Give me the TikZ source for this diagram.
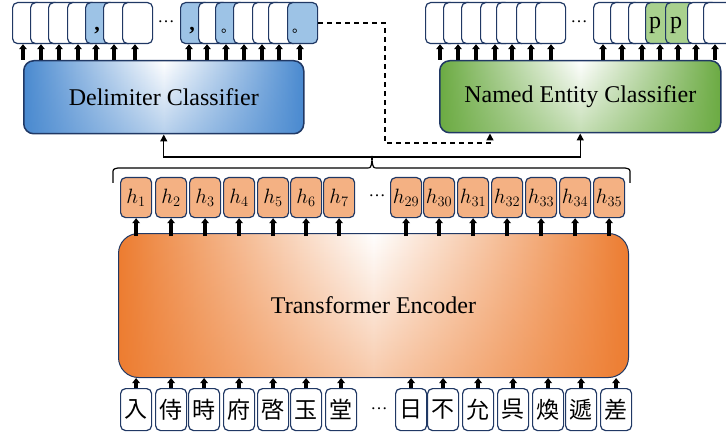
\documentclass[tikz,border=0pt]{standalone}
\usepackage{fontspec}
\setmainfont{Liberation Serif}
\newfontfamily\cjkf{Noto Sans CJK JP}
\usetikzlibrary{arrows.meta,calc,fadings}
\definecolor{navy}{HTML}{203864}
\definecolor{hor}{HTML}{F4B183}
\definecolor{bfill}{HTML}{9DC3E6}
\definecolor{gfill}{HTML}{A9D18E}
\definecolor{encor}{HTML}{ED7D31}
\definecolor{dcblue}{HTML}{4A8AD0}
\definecolor{necgreen}{HTML}{6CAB43}
\tikzset{
 obox/.style={draw=navy,line width=1.2pt,rounded corners=5pt,minimum width=30pt,minimum height=41pt,inner sep=0pt,anchor=north west},
 hbox/.style={draw=navy,line width=1.2pt,rounded corners=5pt,fill=hor,minimum width=31pt,minimum height=40pt,inner sep=0pt,anchor=north west,font=\fontsize{21}{24}\selectfont},
 cbox/.style={draw=navy,line width=1.2pt,rounded corners=5pt,fill=white,minimum width=31pt,minimum height=42pt,inner sep=0pt,anchor=north west,font=\fontsize{23}{26}\selectfont\cjkf},
 arr/.style={line width=3.4pt,-{Triangle[length=5pt,width=7.5pt]}},
 conn/.style={line width=1.3pt},
 carr/.style={line width=1.4pt,-{Triangle[length=7pt,width=7pt]}},
 dsh/.style={line width=1.4pt,dash pattern=on 5pt off 4pt,-{Triangle[length=7pt,width=7pt]}},
 cls/.style={draw=navy,line width=1.5pt,rounded corners=10pt,inner sep=0pt,anchor=north west,font=\fontsize{24}{28}\selectfont},
 grad/.style={path picture={
   \shade[left color=#1,right color=#1,middle color=white] (path picture bounding box.south west) rectangle (path picture bounding box.north east);
   \fill[#1,opacity=0.4,path fading=north] (path picture bounding box.south west) rectangle (path picture bounding box.north east);}},
 dots/.style={font=\fontsize{17}{20}\selectfont,inner sep=0pt},
 lab/.style={inner sep=0pt,anchor=base},
}
\begin{document}
\begin{tikzpicture}[x=1pt,y=-1pt]
\useasboundingbox (0,0) rectangle (726,433);

% classifiers
\node[cls,minimum width=280pt,minimum height=73pt,grad=dcblue] (dc) at (23,60) {Delimiter Classifier};
\node[cls,minimum width=281pt,minimum height=72pt,grad=necgreen] (nec) at (439,60) {Named Entity Classifier};

% encoder
\node[draw=navy,line width=1pt,rounded corners=20pt,minimum width=510pt,minimum height=144pt,inner sep=0pt,anchor=north west,
  font=\fontsize{24}{28}\selectfont,grad=encor]
  (enc) at (118,233) {\raisebox{-6pt}{Transformer Encoder}};

% top output boxes
\foreach \l/\f/\o [count=\i] in {12/white/11,30/white/11,48/white/11,67/white/11,85/bfill/11,103/white/11,122/white/13}{
  \node[obox,fill=\f] (ga\i) at (\l,2) {};
  \coordinate (ta\i) at ($(ga\i.south west)+(\o,0)$);
  \draw[arr] (ta\i |- dc.north) -- (ta\i);
}
\foreach \l/\f/\o [count=\i] in {180/bfill/9,198/white/9,215/bfill/11,233/white/11,252/white/10,268/white/11,287/bfill/13}{
  \node[obox,fill=\f] (gb\i) at (\l,2) {};
  \coordinate (tb\i) at ($(gb\i.south west)+(\o,0)$);
  \draw[arr] (tb\i |- dc.north) -- (tb\i);
}
\foreach \l/\f/\o [count=\i] in {425/white/15,443/white/15,461/white/15,480/white/15,496/white/16,516/white/15,535/white/16}{
  \node[obox,fill=\f] (gc\i) at (\l,2) {};
  \coordinate (tc\i) at ($(gc\i.south west)+(\o,0)$);
  \draw[arr] (tc\i |- nec.north) -- (tc\i);
}
\foreach \l/\f/\o [count=\i] in {593/white/10,610/white/12,628/white/14,645/gfill/15,665/gfill/13,687/white/9,703/white/12}{
  \node[obox,fill=\f] (gd\i) at (\l,2) {};
  \coordinate (td\i) at ($(gd\i.south west)+(\o,0)$);
  \draw[arr] (td\i |- nec.north) -- (td\i);
}
% labels in output boxes
\node[lab,font=\fontsize{22}{24}\selectfont\bfseries] (k1) at ($(ga5.south west)+(12,-14)$) {,};
\node[lab,font=\fontsize{22}{24}\selectfont\bfseries] (k2) at ($(gb1.south west)+(12,-14)$) {,};
\node[lab,anchor=base west,font=\fontsize{14}{16}\selectfont\cjkf] (k3) at ($(gb3.south west)+(6,-12)$) {。};
\node[lab,anchor=base west,font=\fontsize{14}{16}\selectfont\cjkf] (k4) at ($(gb7.south west)+(5,-12)$) {。};
\node[lab,font=\fontsize{24}{26}\selectfont] (p1) at ($(gd4.south west)+(10,-16)$) {p};
\node[lab,font=\fontsize{24}{26}\selectfont] (p2) at ($(gd5.south west)+(11,-16)$) {p};

% ellipses
\node[dots] (e1) at (166,22) {…};
\node[dots] (e2) at (579,22) {…};
\node[dots] (e3) at (377,196) {…};
\node[dots] (e4) at (379,409) {…};

% hidden states
\foreach \l/\n [count=\i] in {120/1,155/2,189/3,223/4,257/5,290/6,323/7,390/29,423/30,457/31,491/32,525/33,559/34,593/35}{
  \node[hbox] (h\i) at (\l,177) {$h_{\n}$};
  \draw[arr] ([yshift=-3pt]h\i.south |- enc.north) -- (h\i.south);
}

% characters
\foreach \l/\c [count=\i] in {120/入,155/侍,188/時,223/府,257/啓,290/玉,325/堂,395/日,427/不,462/允,497/呉,532/煥,565/遞,600/差}{
  \node[cbox] (c\i) at (\l,388) {\c};
  \draw[arr] (c\i.north) -- (c\i.north |- enc.south);
}

% brace
\coordinate (tip) at (372,160);
\coordinate (jn) at (372,157);
\draw[line width=1.2pt] (113,183) -- (113,174) .. controls (113,169) .. (118,168) -- (366,168)
  .. controls (371,168) .. (tip) .. controls (373,168) .. (378,168) -- (625,168)
  .. controls (630,169) .. (630,174) -- (630,183);

% connectors
\draw[conn] (tip) -- (jn);
\draw[carr] (jn) -| (dc.south);
\draw[carr] (jn) -| (nec.south);

% dashed connector
\coordinate (d1) at (385,143);
\coordinate (d2) at (490,143);
\draw[dsh] (gb7.east) -| (d1) -- (d2) -- (d2 |- nec.south);
\end{tikzpicture}
\end{document}
